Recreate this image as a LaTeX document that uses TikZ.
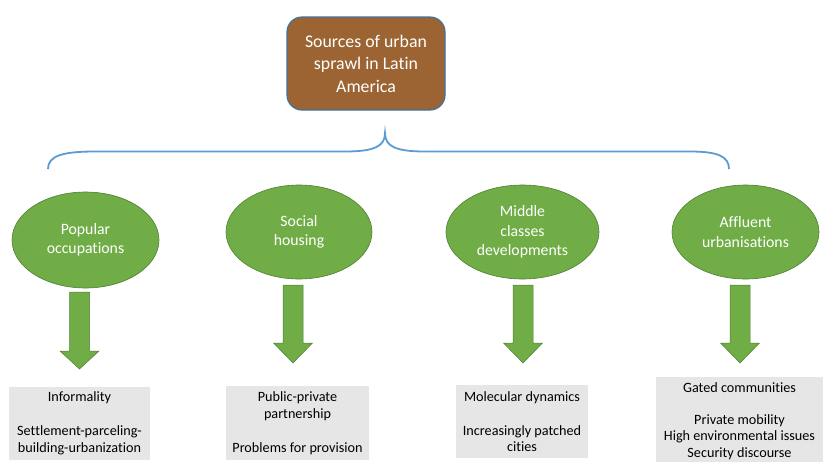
\documentclass[tikz,border=0pt]{standalone}
\usepackage{fontspec}
\setmainfont{Carlito}[Ligatures=NoCommon]
\usetikzlibrary{shapes.geometric}
\definecolor{brownfill}{RGB}{156,100,50}
\definecolor{boxedge}{RGB}{65,113,156}
\definecolor{bracecol}{RGB}{91,155,213}
\definecolor{greenfill}{RGB}{112,173,71}
\definecolor{greenedge}{RGB}{80,126,50}
\definecolor{grayfill}{RGB}{231,230,230}
\tikzset{
  topbox/.style={draw=boxedge, line width=1.2pt, fill=brownfill, rounded corners=15pt,
    minimum width=158pt, minimum height=93pt, text=white, align=center,
    font=\fontsize{17.8}{22.5}\selectfont, inner sep=0pt},
  cat/.style={ellipse, draw=greenedge, line width=0.6pt, fill=greenfill, text=white,
    align=center, font=\fontsize{15.8}{19.5}\selectfont, inner sep=0pt,
    minimum height=94pt},
  detail/.style={fill=grayfill, align=center, inner sep=0pt,
    font=\fontsize{14.2}{16.5}\selectfont},
  garrowstyle/.style={draw=greenedge, line width=0.5pt, fill=greenfill},
}
\newcommand\garrow[4]{% center x, shaft top, head top, tip
  \draw[garrowstyle] (#1-10,#2) -- (#1+10,#2) -- (#1+10,#3) -- (#1+19.5,#3)
    -- (#1,#4) -- (#1-19.5,#3) -- (#1-10,#3) -- cycle;}
\begin{document}
\begin{tikzpicture}[x=1pt,y=-1pt]
\useasboundingbox (0,0) rectangle (824,461);
\clip (0,0) rectangle (824,461);
\node[topbox] (top) at (366,63.5) {Sources of urban\\sprawl in Latin\\America};
% brace
\coordinate (bl) at (48,169);
\coordinate (tip) at (385,133);
\coordinate (br) at (729,169);
\draw[bracecol, line width=1.8pt]
  (bl) .. controls (48,156) and (62,151.5) .. (95,151.5) -- (345,151.5)
  .. controls (375,151.5) and (385,146) .. (tip)
  .. controls (385,146) and (395,151.5) .. (425,151.5) -- (690,151.5)
  .. controls (717,151.5) and (729,156) .. (br);
% categories
\node[cat, minimum width=147pt, minimum height=96pt] (c1) at (85.5,240) {Popular\\occupations};
\node[cat, minimum width=146pt] (c2) at (299,232) {Social\\housing};
\node[cat, minimum width=153pt] (c3) at (522.5,232) {Middle\\classes\\developments};
\node[cat, minimum width=147pt] (c4) at (745.5,232) {Affluent\\urbanisations};
% arrows
\garrow{79.5}{292}{351}{369}
\garrow{293}{285}{343}{363}
\garrow{523}{285}{343}{363}
\garrow{740}{285}{343}{363}
% details
\node[detail, minimum width=141pt, minimum height=73pt] (d1) at (79.5,423.5)
  {Informality\\[17.5pt]Settlement-parceling-\\building-urbanization};
\node[detail, minimum width=143pt, minimum height=74pt] (d2) at (297.5,423)
  {Public-private\\partnership\\[17.5pt]Problems for provision};
\node[detail, minimum width=132pt, minimum height=73pt] (d3) at (522,421.5)
  {Molecular dynamics\\[17.5pt]Increasingly patched\\cities};
\node[detail, minimum width=167pt, minimum height=88pt] (d4) at (739.5,421)
  {Gated communities\\[15pt]Private mobility\\High environmental issues\\Security discourse};
\end{tikzpicture}
\end{document}
